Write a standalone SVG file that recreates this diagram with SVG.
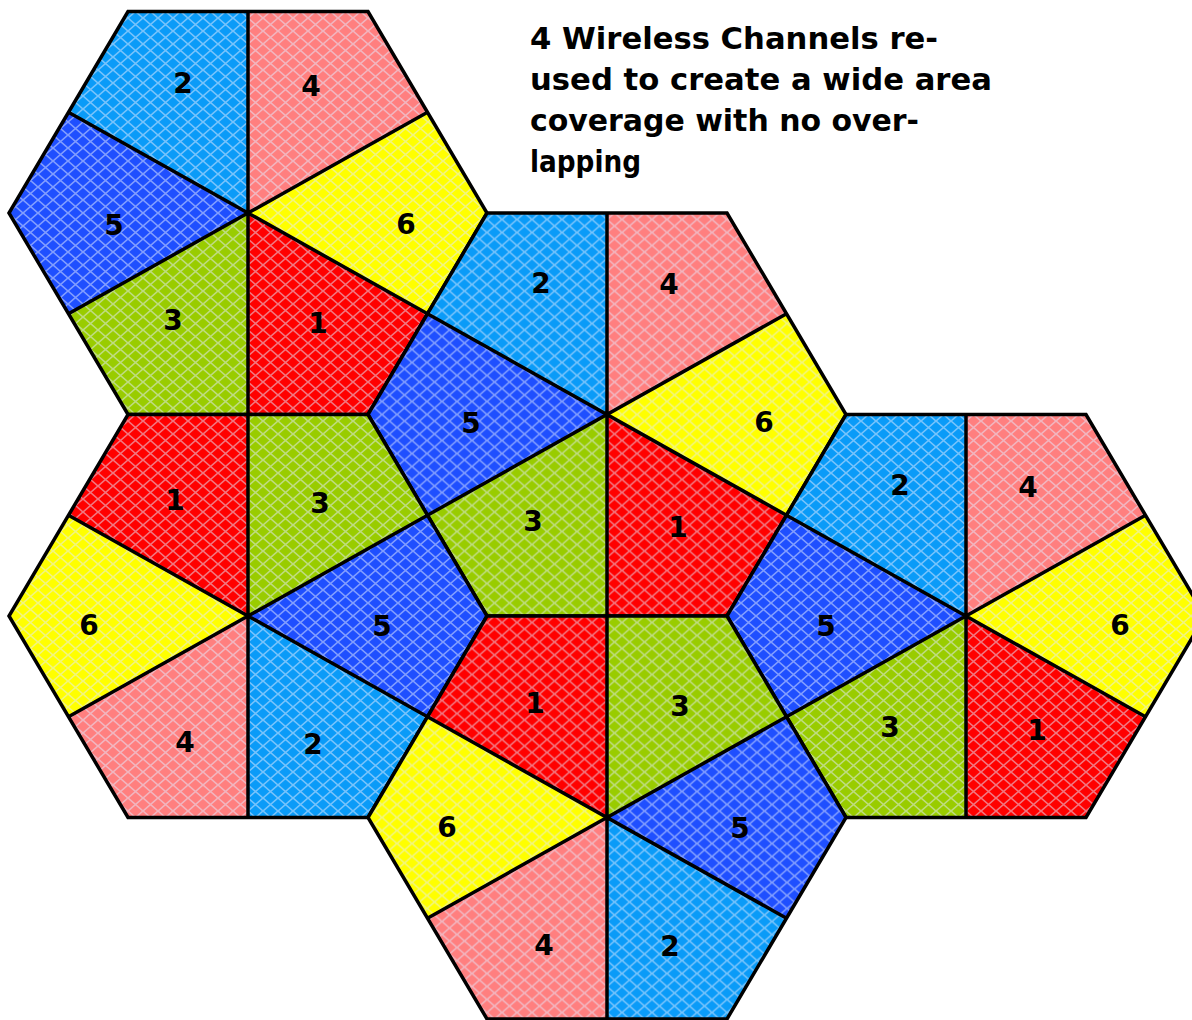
<svg xmlns="http://www.w3.org/2000/svg" width="1192" height="1020" viewBox="0 0 1192 1020">
<defs>
<style>
.c1{fill:#FF0000}.c2{fill:#0A9BF8}.c3{fill:#99CC00}.c4{fill:#FF7F7F}.c5{fill:#1F4FFF}.c6{fill:#FFFF00}
.net{fill:url(#net);stroke:none}
.ln{fill:none;stroke:#000;stroke-width:3.5;stroke-linejoin:miter}
.lb{font-family:'Comic Sans MS','DejaVu Sans',sans-serif;font-weight:bold;font-size:28px;text-anchor:middle;fill:#000}
.tt{font-family:'Comic Sans MS','DejaVu Sans',sans-serif;font-weight:bold;font-size:30px;fill:#000}
</style>
<pattern id="net" width="15" height="13" patternUnits="userSpaceOnUse">
<path d="M0,0L15,13M15,0L0,13" fill="none" stroke="#E4ECFF" stroke-width="1.6" stroke-opacity="0.5"/>
</pattern>
<polygon id="sTL" points="0,0 -179.5,-100.75 -120,-201.5 0,-201.5"/>
<polygon id="sTR" points="0,0 0,-201.5 120,-201.5 179.5,-100.75"/>
<polygon id="sR" points="0,0 179.5,-100.75 239,0 179.5,100.75"/>
<polygon id="sBR" points="0,0 179.5,100.75 120,201.5 0,201.5"/>
<polygon id="sBL" points="0,0 0,201.5 -120,201.5 -179.5,100.75"/>
<polygon id="sL" points="0,0 -179.5,100.75 -239,0 -179.5,-100.75"/>
<polygon id="hexNet" class="net" points="-120,-201.5 120,-201.5 239,0 120,201.5 -120,201.5 -239,0"/>
<path id="hexLines" class="ln" d="M-120,-201.5L120,-201.5L239,0L120,201.5L-120,201.5L-239,0Z M0,-201.5L0,201.5 M-179.5,-100.75L179.5,100.75 M179.5,-100.75L-179.5,100.75"/>
</defs>
<rect width="1192" height="1020" fill="#FFFFFF"/>

<g id="hexA">
<g transform="translate(248,213)">
<use href="#sTL" class="c2"/><use href="#sTR" class="c4"/><use href="#sR" class="c6"/>
<use href="#sBR" class="c1"/><use href="#sBL" class="c3"/><use href="#sL" class="c5"/>
<use href="#hexNet"/><use href="#hexLines"/>
</g>
<text class="lb" x="183" y="93">2</text><text class="lb" x="311" y="96">4</text>
<text class="lb" x="406" y="234">6</text><text class="lb" x="318" y="333">1</text>
<text class="lb" x="173" y="330">3</text><text class="lb" x="114" y="235">5</text>
</g>

<g id="hexB">
<g transform="translate(607,414.5)">
<use href="#sTL" class="c2"/><use href="#sTR" class="c4"/><use href="#sR" class="c6"/>
<use href="#sBR" class="c1"/><use href="#sBL" class="c3"/><use href="#sL" class="c5"/>
<use href="#hexNet"/><use href="#hexLines"/>
</g>
<text class="lb" x="541" y="293">2</text><text class="lb" x="669" y="294">4</text>
<text class="lb" x="764" y="432">6</text><text class="lb" x="678" y="537">1</text>
<text class="lb" x="533" y="531">3</text><text class="lb" x="471" y="433">5</text>
</g>

<g id="hexC">
<g transform="translate(966,616)">
<use href="#sTL" class="c2"/><use href="#sTR" class="c4"/><use href="#sR" class="c6"/>
<use href="#sBR" class="c1"/><use href="#sBL" class="c3"/><use href="#sL" class="c5"/>
<use href="#hexNet"/><use href="#hexLines"/>
</g>
<text class="lb" x="900" y="495">2</text><text class="lb" x="1028" y="497">4</text>
<text class="lb" x="1120" y="635">6</text><text class="lb" x="1037" y="740">1</text>
<text class="lb" x="890" y="737">3</text><text class="lb" x="826" y="636">5</text>
</g>

<g id="hexD">
<g transform="translate(248,616)">
<use href="#sTL" class="c1"/><use href="#sTR" class="c3"/><use href="#sR" class="c5"/>
<use href="#sBR" class="c2"/><use href="#sBL" class="c4"/><use href="#sL" class="c6"/>
<use href="#hexNet"/><use href="#hexLines"/>
</g>
<text class="lb" x="175" y="510">1</text><text class="lb" x="320" y="513">3</text>
<text class="lb" x="89" y="635">6</text><text class="lb" x="382" y="636">5</text>
<text class="lb" x="185" y="752">4</text><text class="lb" x="313" y="754">2</text>
</g>

<g id="hexE">
<g transform="translate(607,817.5)">
<use href="#sTL" class="c1"/><use href="#sTR" class="c3"/><use href="#sR" class="c5"/>
<use href="#sBR" class="c2"/><use href="#sBL" class="c4"/><use href="#sL" class="c6"/>
<use href="#hexNet"/><use href="#hexLines"/>
</g>
<text class="lb" x="535" y="713">1</text><text class="lb" x="680" y="716">3</text>
<text class="lb" x="447" y="837">6</text><text class="lb" x="740" y="838">5</text>
<text class="lb" x="544" y="955">4</text><text class="lb" x="670" y="956">2</text>
</g>

<g id="title">
<text class="tt" x="530" y="49" textLength="408" lengthAdjust="spacingAndGlyphs">4 Wireless Channels re-</text>
<text class="tt" x="530" y="90" textLength="462" lengthAdjust="spacingAndGlyphs">used to create a wide area</text>
<text class="tt" x="530" y="131" textLength="389" lengthAdjust="spacingAndGlyphs">coverage with no over-</text>
<text class="tt" x="530" y="172" textLength="111" lengthAdjust="spacingAndGlyphs">lapping</text>
</g>
</svg>
